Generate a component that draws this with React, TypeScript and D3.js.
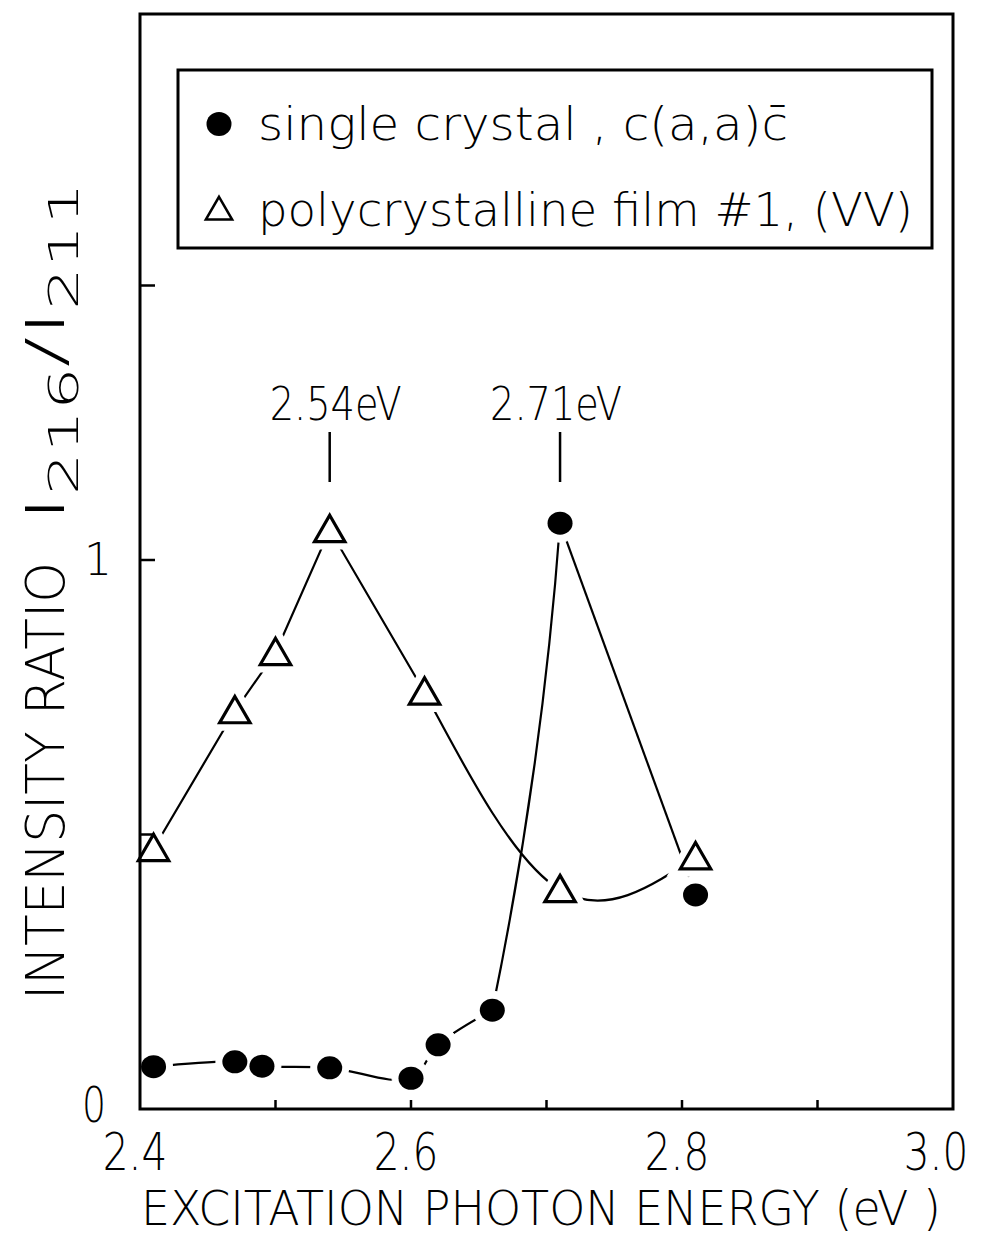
import * as d3 from "d3";

// excitation energies (eV) and intensity ratios
const singleX = [2.41, 2.47, 2.49, 2.54, 2.6, 2.62, 2.66, 2.71, 2.81];
const singleY = [0.077, 0.086, 0.078, 0.075, 0.056, 0.117, 0.18, 1.067, 0.39];

const polyX = [2.41, 2.47, 2.5, 2.54, 2.61, 2.71, 2.81];
const polyY = [0.474, 0.725, 0.831, 1.055, 0.759, 0.399, 0.459];

const xTickLabels = ["2.4", "2.6", "2.8", "3.0"];
const xMinorTicks = [2.5, 2.6, 2.7, 2.8, 2.9];
const yTicks = [0.5, 1, 1.5];
const peakX = [2.54, 2.71];
const peakText = ["2.54eV", "2.71eV"];

const W = 983;
const H = 1241;
const FONT = "'DejaVu Sans', sans-serif";
const LIGHT = 200;

export default function App() {
  const x = d3.scaleLinear().domain([2.4, 3.0]).range([140, 953]);
  const y = d3.scaleLinear().domain([0, 2]).range([1109, 11]);

  const single = singleX.map((v, i) => [v, singleY[i]] as [number, number]);
  const poly = polyX.map((v, i) => [v, polyY[i]] as [number, number]);

  const mk = (curve: d3.CurveFactory) =>
    d3.line<[number, number]>().x(d => x(d[0])).y(d => y(d[1])).curve(curve);
  const straight = mk(d3.curveLinear);
  const smooth = mk(d3.curveCatmullRom.alpha(0.5));
  const natural = mk(d3.curveNatural);

  // steep rise to the 2.71 eV peak: gently bowed toward the lower right
  const bowed = (a: [number, number], b: [number, number], bow: number) => {
    const ax = x(a[0]), ay = y(a[1]), bx = x(b[0]), by = y(b[1]);
    const len = Math.hypot(bx - ax, by - ay);
    const nx = -(by - ay) / len, ny = (bx - ax) / len;
    const p = d3.path();
    p.moveTo(ax, ay);
    p.quadraticCurveTo((ax + bx) / 2 + nx * bow, (ay + by) / 2 + ny * bow, bx, by);
    return p.toString();
  };

  // pieces, with a cusp at each peak
  const singlePaths = [
    smooth(single.slice(0, 7)),
    bowed(single[6], single[7], 16),
    straight(single.slice(7)),
  ];
  const polyPaths = [
    straight(poly.slice(0, 5)),
    natural(poly.slice(4)),
  ];

  const tri = d3.symbol().type(d3.symbolTriangle).size(400)();

  const [x0, x1] = x.range();
  const [y0, y1] = y.range();

  return (
    <svg
      width={W}
      height={H}
      style={{ position: "absolute", left: 0, top: 0, background: "#fff" }}
      fontFamily={FONT}
      fontWeight={LIGHT}
    >
      {/* curves */}
      <g fill="none" stroke="#000" strokeWidth={2.2}>
        {polyPaths.map((d, i) => <path key={"p" + i} d={d!} />)}
        {singlePaths.map((d, i) => <path key={"s" + i} d={d!} />)}
      </g>

      {/* white halos so the lines stop short of the markers */}
      <g fill="#fff" stroke="#fff">
        {single.map((d, i) => (
          <circle key={i} cx={x(d[0])} cy={y(d[1])} r={19} />
        ))}
        {poly.map((d, i) => (
          <path key={i} d={tri!} transform={`translate(${x(d[0])},${y(d[1]) + 3})`} strokeWidth={16} />
        ))}
      </g>

      {/* markers */}
      {single.map((d, i) => (
        <ellipse key={i} cx={x(d[0])} cy={y(d[1])} rx={12.5} ry={11.5} fill="#000" />
      ))}
      {poly.map((d, i) => (
        <path
          key={i}
          d={tri!}
          transform={`translate(${x(d[0])},${y(d[1]) + 3})`}
          fill="#fff"
          stroke="#000"
          strokeWidth={3.2}
        />
      ))}

      {/* frame */}
      <rect x={x0} y={y1 + 3} width={x1 - x0} height={y0 - y1 - 3} fill="none" stroke="#000" strokeWidth={3} />

      {/* ticks */}
      {xMinorTicks.map(t => (
        <line key={t} x1={x(t)} x2={x(t)} y1={y0} y2={y0 - 9} stroke="#000" strokeWidth={2.5} />
      ))}
      {yTicks.map(t => (
        <line key={t} x1={x0} x2={x0 + 15} y1={y(t)} y2={y(t)} stroke="#000" strokeWidth={2.5} />
      ))}

      {/* tick labels (narrow lettering via a horizontal squeeze) */}
      {xTickLabels.map(s => (
        <g key={s} transform={`translate(${Math.min(x(+s) - 5, 936)},1170) scale(0.78,1)`}>
          <text x={0} y={0} fontSize={52} textAnchor="middle">
            {s}
          </text>
        </g>
      ))}
      <text x={94} y={1122} fontSize={50} textAnchor="middle" textLength={24} lengthAdjust="spacingAndGlyphs">0</text>
      <text x={98} y={575} fontSize={44} textAnchor="middle">1</text>

      {/* axis titles */}
      <text x={141} y={1225} fontSize={48} textLength={800} lengthAdjust="spacingAndGlyphs">
        EXCITATION PHOTON ENERGY (eV )
      </text>
      <g transform="translate(64,1000) rotate(-90)">
        <text x={0} y={0} fontSize={54} textLength={438} lengthAdjust="spacingAndGlyphs">
          INTENSITY RATIO
        </text>
        <text x={478} y={0} fontSize={54} textLength={340} lengthAdjust="spacingAndGlyphs">
          I<tspan dy={14} fontSize={40}>216</tspan>
          <tspan dy={-14} fontSize={54}>/I</tspan>
          <tspan dy={14} fontSize={40}>211</tspan>
        </text>
      </g>

      {/* peak annotations */}
      {peakX.map((px, i) => (
        <g key={px}>
          <text
            x={x(px) + (i === 0 ? 6 : -4)}
            y={420}
            fontSize={46}
            textAnchor="middle"
            textLength={132}
            lengthAdjust="spacingAndGlyphs"
          >
            {peakText[i]}
          </text>
          <line x1={x(px)} x2={x(px)} y1={432} y2={482} stroke="#000" strokeWidth={2.5} />
        </g>
      ))}

      {/* legend */}
      <rect x={178} y={70} width={754} height={178} fill="#fff" stroke="#000" strokeWidth={3} />
      <ellipse cx={219} cy={124} rx={12.5} ry={12} fill="#000" />
      <text x={258} y={140} fontSize={46} textLength={530} lengthAdjust="spacingAndGlyphs">
        single crystal , c(a,a)c̄
      </text>
      <path d={d3.symbol().type(d3.symbolTriangle).size(300)()!} transform="translate(219,212)" fill="#fff" stroke="#000" strokeWidth={2.5} />
      <text x={258} y={226} fontSize={46} textLength={655} lengthAdjust="spacingAndGlyphs">
        polycrystalline film #1, (VV)
      </text>
    </svg>
  );
}
